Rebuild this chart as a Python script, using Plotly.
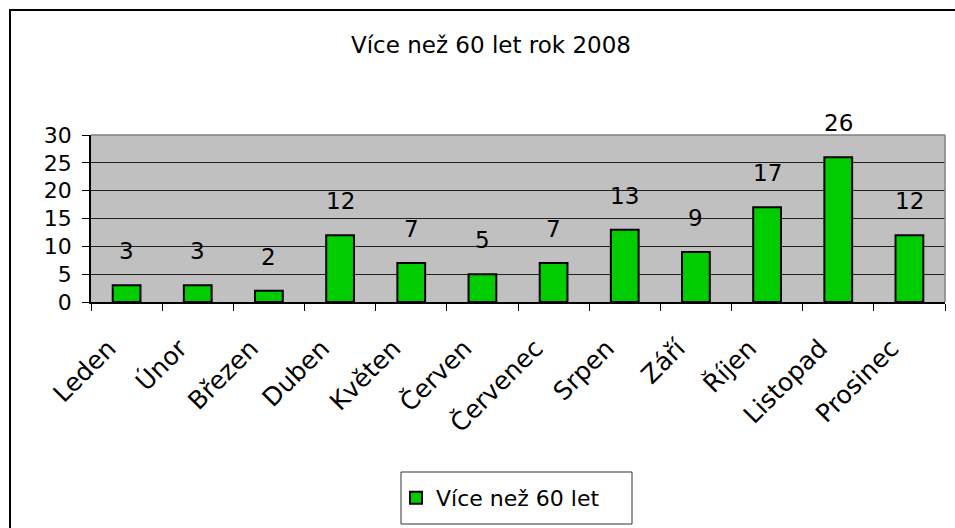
import plotly.graph_objects as go

months = ["Leden", "Únor", "Březen", "Duben", "Květen", "Červen", "Červenec",
          "Srpen", "Září", "Říjen", "Listopad", "Prosinec"]
values = [3, 3, 2, 12, 7, 5, 7, 13, 9, 17, 26, 12]
series_name = "Více než 60 let"
title_text = "Více než 60 let rok 2008"
y_ticks = [0, 5, 10, 15, 20, 25, 30]

W, H = 955, 528
L, R, T, B = 91, 10, 135, 226
PW, PH = W - L - R, H - T - B


def px(x):
    return (x - L) / PW


def py(y):
    return (H - B - y) / PH


FONT = "DejaVu Sans, Verdana, sans-serif"
FS = 22

fig = go.Figure()
fig.add_trace(go.Bar(
    x=months, y=values, name=series_name,
    marker=dict(color="#00CC00", line=dict(color="black", width=2)),
    showlegend=True,
))

annotations = [
    dict(x=m, y=v, text=str(v), showarrow=False, xref="x", yref="y",
         yanchor="middle", yshift=34, font=dict(size=23, color="black", family=FONT))
    for m, v in zip(months, values)
]
annotations.append(dict(x=px(491), y=py(45), xref="paper", yref="paper",
                        text=title_text, showarrow=False, xanchor="center",
                        yanchor="middle", font=dict(size=23, color="black", family=FONT)))

shapes = [
    # outer chart border (cropped on the right and bottom)
    dict(type="rect", xref="paper", yref="paper", x0=px(10), x1=px(1000),
         y0=py(600), y1=py(10), line=dict(color="black", width=2), layer="below"),
    # plot area top and right borders
    dict(type="line", xref="paper", yref="paper", x0=0, x1=1, y0=1, y1=1,
         line=dict(color="#808080", width=1.5)),
    dict(type="line", xref="paper", yref="paper", x0=1, x1=1, y0=0, y1=1,
         line=dict(color="#808080", width=1.5)),
    # legend box
    dict(type="rect", xref="paper", yref="paper", x0=px(401), x1=px(632),
         y0=py(524), y1=py(472), line=dict(color="#333333", width=1)),
]

fig.update_layout(
    width=W, height=H,
    margin=dict(l=L, r=R, t=T, b=B),
    paper_bgcolor="white", plot_bgcolor="#C0C0C0",
    font=dict(family=FONT, size=FS, color="black"),
    bargap=0.61,
    showlegend=True,
    legend=dict(x=px(396), y=py(498), xanchor="left", yanchor="middle",
                orientation="h", bgcolor="rgba(0,0,0,0)", borderwidth=0,
                font=dict(size=FS, family=FONT, color="black")),
    annotations=annotations,
    shapes=shapes,
)
fig.update_xaxes(
    type="category", tickangle=-45, showline=True, linecolor="black", linewidth=1.5,
    ticks="outside", tickson="boundaries", ticklen=7, tickcolor="black",
    ticklabelstandoff=20, ticklabelshift=-18,
    showgrid=False, tickfont=dict(size=25, family=FONT, color="black"),
)
fig.update_yaxes(
    range=[0, 30], tickvals=y_ticks, showline=True, linecolor="black", linewidth=1.5,
    ticks="outside", ticklen=7, tickcolor="black", ticklabelstandoff=6,
    showgrid=True, gridcolor="#202020", gridwidth=1, zeroline=False,
    tickfont=dict(size=FS, family=FONT, color="black"),
)

fig.write_html("out.html", post_script="document.body.style.margin='0';",
               config={"displayModeBar": False})
